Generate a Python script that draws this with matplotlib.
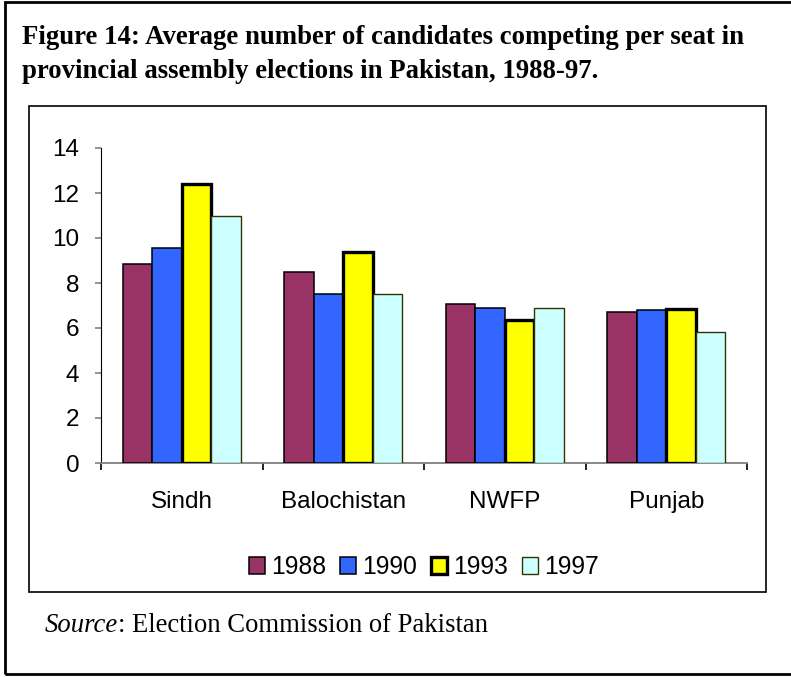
import numpy as np
import matplotlib
matplotlib.use('Agg')
import matplotlib.pyplot as plt
from matplotlib.patches import Rectangle

provinces = ['Sindh', 'Balochistan', 'NWFP', 'Punjab']
years = ['1988', '1990', '1993', '1997']
v1988 = [8.84, 8.50, 7.08, 6.71]
v1990 = [9.57, 7.51, 6.89, 6.80]
v1993 = [12.38, 9.39, 6.36, 6.83]
v1997 = [10.99, 7.51, 6.89, 5.84]
series = [v1988, v1990, v1993, v1997]

face_colors = ['#993366', '#3366FF', '#FFFF00', '#CCFFFF']
edge_colors = ['black', 'black', 'black', '#333300']
edge_widths = [1.1, 1.1, 2.4, 1.0]

W, H = 791, 677
fig = plt.figure(figsize=(W / 100, H / 100), dpi=100)

# frames (outer page box and inner chart box), in pixel units
def px_rect(x0, y0, x1, y1, lw):
    fig.patches.append(Rectangle((x0 / W, 1 - y1 / H), (x1 - x0) / W, (y1 - y0) / H,
                                 transform=fig.transFigure, fill=False,
                                 edgecolor='black', linewidth=lw, zorder=0))

px_rect(5, 1.5, 800, 674, 2.0)
px_rect(29, 106, 766, 592, 1.2)

serif = 'Liberation Serif'
sans = 'Liberation Sans'
fig.text(22 / W, 1 - 44 / H, 'Figure 14: Average number of candidates competing per seat in',
         family=serif, weight='bold', fontsize=19.3, va='baseline', ha='left')
fig.text(22 / W, 1 - 78 / H, 'provincial assembly elections in Pakistan, 1988-97.',
         family=serif, weight='bold', fontsize=19.3, va='baseline', ha='left')

# "Source" in italics, rest upright, placed right after it
src = fig.text(45 / W, 1 - 632 / H, 'Source', family=serif, style='italic',
               fontsize=19.2, va='baseline', ha='left')
fig.canvas.draw()
bb = src.get_window_extent()
fig.text(bb.x1 / W, 1 - 632 / H, ': Election Commission of Pakistan', family=serif,
         fontsize=19.2, va='baseline', ha='left')

ax = fig.add_axes([101 / W, 1 - 463 / H, (747 - 101) / W, (463 - 148) / H])

x = np.arange(len(provinces))
w = 0.183
for i, vals in enumerate(series):
    ax.bar(x + (i - 1.5) * w, vals, w, color=face_colors[i], edgecolor=edge_colors[i],
           linewidth=edge_widths[i], label=years[i], zorder=3)

ax.set_xlim(-0.5, 3.5)
ax.set_ylim(0, 14)
ax.set_yticks(range(0, 15, 2))
ax.set_xticks(x)
ax.set_xticklabels(provinces)
ax.set_xticks(np.arange(-0.5, 4, 1), minor=True)

for s in ['top', 'right']:
    ax.spines[s].set_visible(False)
ax.spines['left'].set_color('black')
ax.spines['bottom'].set_color('#808080')
ax.spines['bottom'].set_linewidth(1.3)

ax.tick_params(axis='y', direction='out', length=4.5, width=1.2, color='#808080',
               labelsize=17.5, pad=11)
ax.tick_params(axis='x', which='major', length=0, labelsize=17.5, pad=20)
ax.tick_params(axis='x', which='minor', direction='out', length=5, width=1.2, color='black')
for lab in ax.get_xticklabels() + ax.get_yticklabels():
    lab.set_family(sans)

fig.legend(loc='center', bbox_to_anchor=(424 / W, 1 - 567 / H), ncol=4, frameon=False,
           prop={'family': sans, 'size': 17.8}, handlelength=0.65, handleheight=0.65,
           handletextpad=0.25, columnspacing=0.55)

fig.savefig('out.png', dpi=100)
